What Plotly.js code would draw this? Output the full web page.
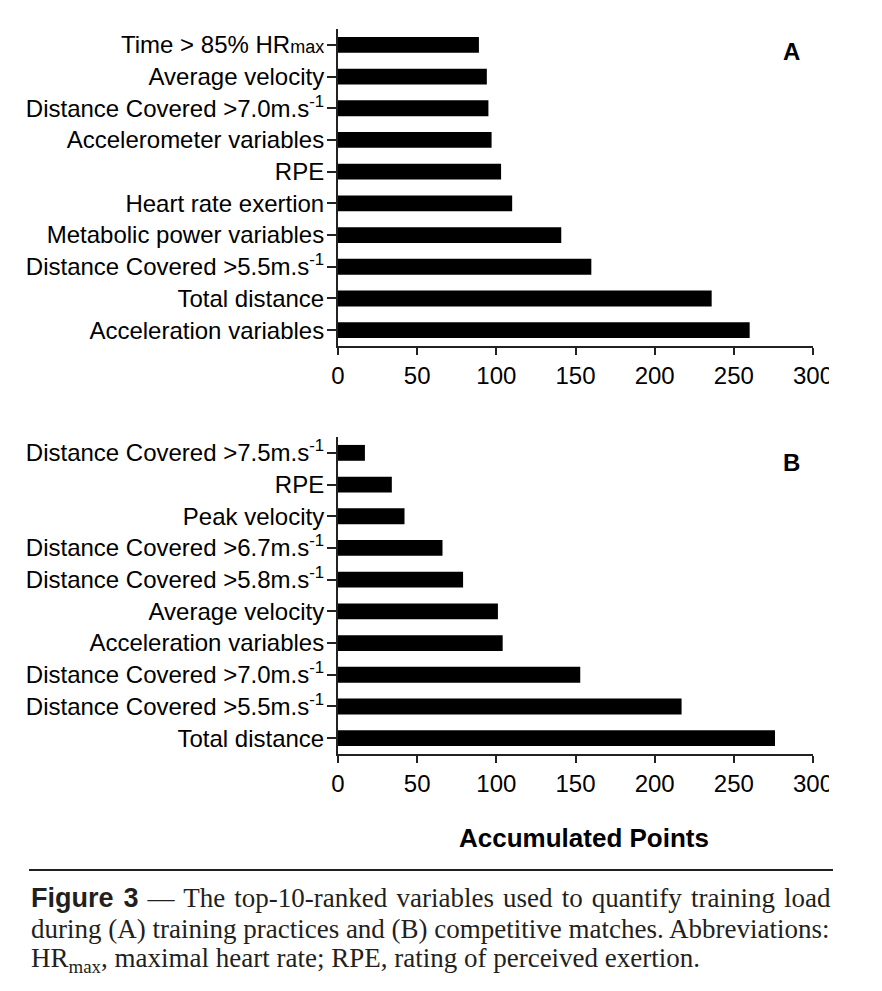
<!DOCTYPE html>
<html>
<head>
<meta charset="utf-8">
<script src="https://cdn.plot.ly/plotly-3.0.1.min.js"></script>
<style>html,body{margin:0;padding:0;background:#fff;}#chart{width:882px;height:991px;}</style>
</head>
<body>
<div id="chart"></div>
<script>
// Panel A: training practices (top to bottom)
const labelsA = [
  "Time > 85% HR<span style='font-size:18px'>max</span>",
  "Average velocity",
  "Distance Covered >7.0m.s<sup>-1</sup>",
  "Accelerometer variables",
  "RPE",
  "Heart rate exertion",
  "Metabolic power variables",
  "Distance Covered >5.5m.s<sup>-1</sup>",
  "Total distance",
  "Acceleration variables"
];
const valuesA = [89, 94, 95, 97, 103, 110, 141, 160, 236, 260];

// Panel B: competitive matches (top to bottom)
const labelsB = [
  "Distance Covered >7.5m.s<sup>-1</sup>",
  "RPE",
  "Peak velocity",
  "Distance Covered >6.7m.s<sup>-1</sup>",
  "Distance Covered >5.8m.s<sup>-1</sup>",
  "Average velocity",
  "Acceleration variables",
  "Distance Covered >7.0m.s<sup>-1</sup>",
  "Distance Covered >5.5m.s<sup>-1</sup>",
  "Total distance"
];
const valuesB = [17, 34, 42, 66, 79, 101, 104, 153, 217, 276];

const xTicks = [0, 50, 100, 150, 200, 250, 300];
const xTitle = "Accumulated Points";
const captionLines = [
  "<span style='word-spacing:2.4px'><span style='font-family:Liberation Sans, Arial, sans-serif;font-weight:bold'>Figure 3</span> — The top-10-ranked variables used to quantify training load</span>",
  "during (A) training practices and (B) competitive matches. Abbreviations:",
  "HR<sub>max</sub>, maximal heart rate; RPE, rating of perceived exertion."
];

const W = 882, H = 991;
const px = v => v / W;
const py = v => 1 - v / H;
const SANS = "Liberation Sans, Arial, sans-serif";
const SERIF = "Liberation Serif, Times New Roman, serif";

const traces = [
  {type: 'bar', orientation: 'h', x: valuesA, y: labelsA, xaxis: 'x', yaxis: 'y',
   marker: {color: '#000'}, width: 0.5, hoverinfo: 'x+y'},
  {type: 'bar', orientation: 'h', x: valuesB, y: labelsB, xaxis: 'x2', yaxis: 'y2',
   marker: {color: '#000'}, width: 0.5, hoverinfo: 'x+y'}
];

function xAxis(anchor) {
  return {
    anchor: anchor, domain: [px(338), px(813)], range: [0, 300],
    tickmode: 'array', tickvals: xTicks, ticktext: xTicks.map(String),
    ticks: 'outside', ticklen: 7, tickwidth: 2, tickcolor: '#222',
    showline: true, linewidth: 2, linecolor: '#222',
    showgrid: false, zeroline: false,
    tickfont: {family: SANS, size: 24, color: '#000'}
  };
}
function yAxis(anchor, top, bottom, labels) {
  return {
    anchor: anchor, domain: [py(bottom), py(top)], range: [9.5, -0.5],
    type: 'category', categoryorder: 'array', categoryarray: labels,
    ticks: 'outside', ticklen: 9, tickwidth: 2, tickcolor: '#222',
    showline: true, linewidth: 2, linecolor: '#222',
    showgrid: false, zeroline: false, ticklabelstandoff: -2,
    tickfont: {family: SANS, size: 24, color: '#000'}
  };
}

const annotations = [
  {text: '<b>A</b>', x: px(791), y: py(52), xref: 'paper', yref: 'paper', xanchor: 'center', yanchor: 'middle',
   showarrow: false, font: {family: SANS, size: 24, color: '#000'}},
  {text: '<b>B</b>', x: px(791), y: py(462), xref: 'paper', yref: 'paper', xanchor: 'center', yanchor: 'middle',
   showarrow: false, font: {family: SANS, size: 24, color: '#000'}},
  {text: '<b>' + xTitle + '</b>', x: px(584), y: py(838), xref: 'paper', yref: 'paper', xanchor: 'center', yanchor: 'middle',
   showarrow: false, font: {family: SANS, size: 26, color: '#000'}}
];
const capY = [898, 929, 960];
captionLines.forEach((t, i) => {
  annotations.push({text: t, x: px(29), y: py(capY[i]), xref: 'paper', yref: 'paper', xanchor: 'left', yanchor: 'middle',
    showarrow: false, align: 'left', font: {family: SERIF, size: 27, color: '#231f20'}});
});

const shapes = [
  {type: 'line', xref: 'paper', yref: 'paper', x0: px(29), x1: px(833), y0: py(870), y1: py(870),
   line: {color: '#231f20', width: 2}},
  {type: 'rect', xref: 'paper', yref: 'paper', x0: px(829), x1: 1, y0: py(395), y1: py(355),
   fillcolor: '#fff', line: {width: 0}, layer: 'above'},
  {type: 'rect', xref: 'paper', yref: 'paper', x0: px(829), x1: 1, y0: py(805), y1: py(763),
   fillcolor: '#fff', line: {width: 0}, layer: 'above'}
];

const layout = {
  width: W, height: H, margin: {l: 0, r: 0, t: 0, b: 0},
  paper_bgcolor: '#fff', plot_bgcolor: '#fff', showlegend: false, bargap: 0.5,
  xaxis: xAxis('y'), yaxis: yAxis('x', 29, 346, labelsA),
  xaxis2: xAxis('y2'), yaxis2: yAxis('x2', 437, 754, labelsB),
  annotations: annotations, shapes: shapes
};

Plotly.newPlot('chart', traces, layout, {staticPlot: true, displayModeBar: false});
</script>
</body>
</html>
